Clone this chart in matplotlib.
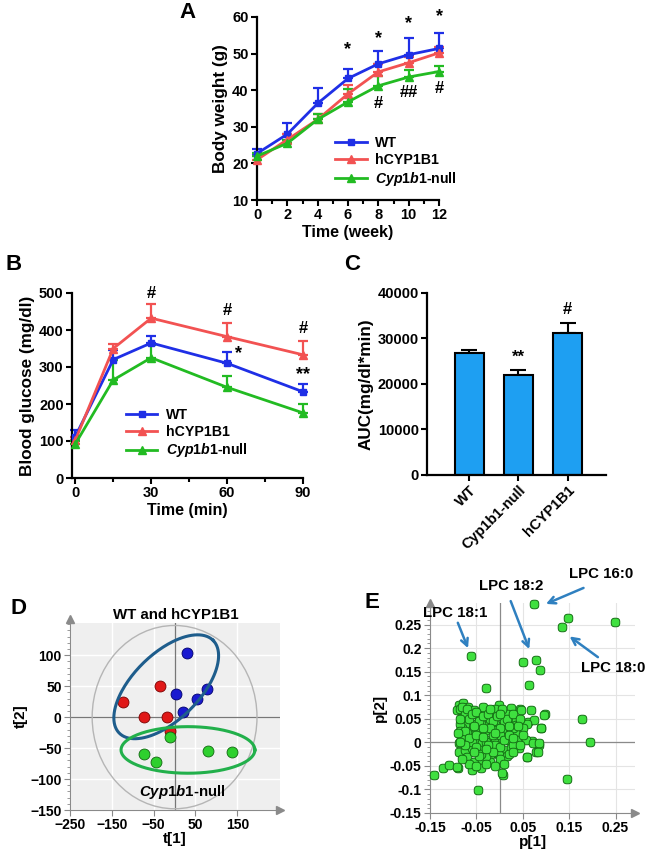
import numpy as np
import matplotlib
matplotlib.use('Agg')
import matplotlib.pyplot as plt
from matplotlib.lines import Line2D
from matplotlib.patches import Ellipse
from matplotlib.path import Path
from matplotlib.ticker import MultipleLocator

plt.rcParams['font.family'] = ['Liberation Sans', 'DejaVu Sans']
plt.rcParams['font.weight'] = 'bold'
plt.rcParams['axes.labelweight'] = 'bold'
plt.rcParams['mathtext.fontset'] = 'custom'
plt.rcParams['mathtext.it'] = 'Liberation Sans:italic:bold'
plt.rcParams['mathtext.rm'] = 'Liberation Sans:bold'

# ---- data ----
# A: body weight
weeks = [0, 2, 4, 6, 8, 10, 12]
bw_wt = [22.7, 28.0, 36.4, 43.2, 47.2, 49.7, 51.4]
bw_wt_err = [1.1, 3.1, 4.3, 2.6, 3.4, 4.5, 4.3]
bw_h = [21.0, 26.5, 32.0, 39.0, 45.0, 47.5, 50.2]
bw_h_err = [1.0, 1.5, 1.5, 2.5, 2.2, 1.7, 1.5]
bw_null = [22.0, 25.5, 32.0, 36.8, 41.2, 43.6, 45.1]
bw_null_err = [0.8, 0.8, 1.5, 3.5, 2.8, 1.8, 1.5]
a_star_x = [6, 8, 10, 12]
a_star_y = [51.0, 54.0, 58.3, 60.2]
a_hash_x = [8, 10, 12]
a_hash_y = [36.5, 39.3, 40.5]
a_hash_txt = ['#', '##', '#']

# B: glucose tolerance
minutes = [0, 15, 30, 60, 90]
gl_wt = [112, 320, 365, 310, 233]
gl_wt_err = [18, 25, 20, 30, 20]
gl_h = [102, 350, 432, 382, 333]
gl_h_err = [8, 12, 38, 38, 37]
gl_null = [92, 265, 325, 245, 176]
gl_null_err = [8, 55, 35, 32, 24]

# C: AUC
groups = ['WT', 'Cyp1b1-null', 'hCYP1B1']
auc = [26800, 22000, 31100]
auc_err = [600, 1000, 2400]
auc_marks = ['', '**', '#']

# D: PCA scores
wt_t1 = [30, 4, 53, 78, 20]
wt_t2 = [104, 38, 30, 45, 8]
h_t1 = [-124, -36, -74, -18, -12]
h_t2 = [25, 50, 0, 0, -22]
null_t1 = [-12, -72, -44, 80, 138]
null_t2 = [-32, -60, -72, -54, -56]

# E: loadings
p1 = [0.075, 0.147, 0.135, 0.248, -0.061, 0.051, 0.078, 0.088, 0.064, -0.030,
      0.177, 0.196, 0.145, -0.047, 0.007, -0.141, -0.123, -0.110, -0.090, 0.060,
      0.078, 0.085, 0.090, 0.098, 0.061, 0.044, 0.070,
      -0.088, -0.078, -0.067, -0.056, -0.081, -0.092, -0.070, -0.038, -0.016, -0.002,
      0.006, 0.024, 0.024, 0.046, 0.067, 0.096, 0.075, 0.060, 0.089, 0.035,
      0.035, 0.009, -0.009, -0.023, -0.041, -0.060, -0.074, -0.056, -0.041, -0.027,
      -0.012, 0.006, 0.024, 0.038, -0.067, -0.052, -0.038, -0.023, -0.009, 0.006,
      0.020, 0.038, 0.057, 0.071, 0.085, 0.082, 0.060, -0.088, -0.088, -0.074,
      -0.060, -0.041, -0.023, -0.005, 0.013, 0.024, 0.042, -0.070, -0.056, -0.038,
      -0.020, -0.002, -0.020, 0.002, -0.092, -0.060, -0.041, 0.006,
      -0.050, -0.030, -0.010, 0.000, -0.045, -0.020, 0.010, -0.060, -0.030, 0.000,
      0.030, -0.050, 0.015, -0.085, -0.075, -0.080, -0.065, -0.035, -0.010, 0.030,
      -0.015, -0.040, -0.070, -0.085, -0.083, -0.086,
      -0.085, -0.080, -0.070, -0.060, -0.050, -0.045, -0.035, -0.025, -0.015, -0.005,
      0.005, 0.015, 0.030, 0.045, 0.050, 0.040, 0.020, 0.000, -0.020, -0.035,
      -0.055, -0.075, -0.065, -0.050, -0.035, -0.025, -0.010, 0.010, 0.020, 0.030,
      0.045, 0.050, 0.015, 0.000, -0.015, -0.030, -0.045, -0.055, -0.065, -0.050,
      -0.030, -0.010, 0.010, 0.020, 0.030, -0.080, -0.075, -0.090, -0.085, -0.020,
      0.000]
p2 = [0.294, 0.264, 0.244, 0.255, 0.183, 0.171, 0.174, 0.153, 0.122, 0.115,
      0.050, 0.000, -0.078, -0.102, -0.070, -0.070, -0.055, -0.048, -0.055, -0.031,
      -0.020, -0.005, 0.031, 0.060, 0.043, 0.070, 0.002,
      0.080, 0.083, 0.076, 0.069, 0.055, 0.069, 0.062, 0.065, 0.058, 0.080,
      0.058, 0.072, 0.051, 0.069, 0.069, 0.058, 0.048, 0.040, 0.030, 0.048,
      0.037, 0.040, 0.040, 0.040, 0.040, 0.040, 0.040, 0.023, 0.019, 0.026,
      0.026, 0.026, 0.023, 0.019, 0.012, 0.005, -0.002, 0.005, 0.009, 0.009,
      0.005, 0.005, 0.005, -0.002, -0.002, -0.020, -0.031, -0.002, -0.020, -0.016,
      -0.013, -0.016, -0.016, -0.016, -0.016, -0.013, -0.013, -0.031, -0.041, -0.038,
      -0.027, -0.027, -0.041, -0.041, -0.052, -0.059, -0.055, -0.066,
      0.030, 0.000, -0.005, 0.015, 0.055, 0.050, 0.045, 0.000, -0.030, -0.010,
      -0.005, -0.010, 0.060, 0.070, 0.060, 0.030, 0.050, 0.075, 0.070, 0.030,
      0.015, -0.025, 0.020, 0.040, 0.010, 0.025,
      0.050, 0.075, 0.070, 0.060, 0.065, 0.045, 0.055, 0.060, 0.045, 0.055,
      0.070, 0.050, 0.060, 0.050, 0.030, 0.035, 0.035, 0.030, 0.030, 0.030,
      0.035, 0.025, 0.010, 0.015, 0.012, -0.005, 0.020, 0.005, 0.015, 0.010,
      -0.005, 0.015, -0.030, -0.035, -0.020, -0.015, -0.030, -0.020, -0.045, -0.050,
      -0.045, -0.050, -0.045, -0.025, -0.020, -0.035, -0.005, 0.020, 0.000, 0.070,
      0.060]
lpc_labels = ['LPC 16:0', 'LPC 18:2', 'LPC 18:1', 'LPC 18:0']
lpc_text = [(0.220, 0.357), (0.024, 0.332), (-0.096, 0.275), (0.245, 0.158)]
lpc_tail = [(0.181, 0.328), (0.024, 0.300), (-0.090, 0.254), (0.212, 0.181)]
lpc_head = [(0.100, 0.294), (0.064, 0.198), (-0.068, 0.200), (0.151, 0.225)]

BLUE = '#1f2fe6'
RED = '#f25252'
GREEN = '#22bb22'
TICK = 10.5

W, H = 651, 858
fig = plt.figure(figsize=(W / 100, H / 100), dpi=100)


def box(x0, y0, x1, y1):
    return [x0 / W, 1 - y1 / H, (x1 - x0) / W, (y1 - y0) / H]


def style_prism(ax):
    for s in ['top', 'right']:
        ax.spines[s].set_visible(False)
    for s in ['left', 'bottom']:
        ax.spines[s].set_linewidth(1.6)
    ax.tick_params(width=1.5, length=4, labelsize=TICK, direction='out', pad=2)
    for lab in ax.get_xticklabels() + ax.get_yticklabels():
        lab.set_fontweight('bold')


def series(ax, x, y, err, color, marker, ms):
    ax.errorbar(x, y, yerr=[np.zeros(len(err)), err], fmt='none', ecolor=color,
                elinewidth=1.6, capsize=3.5, capthick=1.6, clip_on=False, zorder=2)
    ax.plot(x, y, color=color, lw=2, marker=marker, ms=ms, clip_on=False, zorder=3)


def legend3(ax, anchor):
    handles = [Line2D([], [], color=BLUE, lw=2, marker='s', ms=5),
               Line2D([], [], color=RED, lw=2, marker='^', ms=5.5),
               Line2D([], [], color=GREEN, lw=2, marker='^', ms=5.5)]
    labels = ['WT', 'hCYP1B1', r'$\it{Cyp1b1}$-null']
    ax.legend(handles, labels, loc='upper left', bbox_to_anchor=anchor, frameon=False,
              prop={'weight': 'bold', 'size': 10.2}, handlelength=2.2,
              labelspacing=0.2, handletextpad=0.6, borderaxespad=0)


# ---- A ----
axA = fig.add_axes(box(257, 17, 439, 200))
series(axA, weeks, bw_wt, bw_wt_err, BLUE, 's', 5)
series(axA, weeks, bw_h, bw_h_err, RED, '^', 5.5)
series(axA, weeks, bw_null, bw_null_err, GREEN, '^', 5.5)
for x, y in zip(a_star_x, a_star_y):
    axA.text(x, y, '*', ha='center', va='center', fontsize=13, fontweight='bold')
for x, y, t in zip(a_hash_x, a_hash_y, a_hash_txt):
    axA.text(x, y, t, ha='center', va='center', fontsize=12, fontweight='bold')
axA.set_xlim(0, 12)
axA.set_ylim(10, 60)
axA.set_xticks([0, 2, 4, 6, 8, 10, 12])
axA.xaxis.set_minor_locator(MultipleLocator(1))
axA.set_yticks([10, 20, 30, 40, 50, 60])
axA.set_xlabel('Time (week)', fontsize=11.5, labelpad=2)
axA.set_ylabel('Body weight (g)', fontsize=12.3, labelpad=3)
style_prism(axA)
axA.tick_params(which='minor', width=1.5, length=3)
legend3(axA, (0.40, 0.38))

# ---- B ----
axB = fig.add_axes(box(72, 293, 303, 478))
series(axB, minutes, gl_wt, gl_wt_err, BLUE, 's', 5)
series(axB, minutes, gl_h, gl_h_err, RED, '^', 5.5)
series(axB, minutes, gl_null, gl_null_err, GREEN, '^', 5.5)
axB.text(30, 498, '#', ha='center', va='center', fontsize=12, fontweight='bold')
axB.text(60, 453, '#', ha='center', va='center', fontsize=12, fontweight='bold')
axB.text(90, 405, '#', ha='center', va='center', fontsize=12, fontweight='bold')
axB.text(64.5, 335, '*', ha='center', va='center', fontsize=13, fontweight='bold')
axB.text(90, 280, '**', ha='center', va='center', fontsize=13, fontweight='bold')
axB.set_xlim(-1.3, 90)
axB.set_ylim(0, 500)
axB.set_xticks([0, 30, 60, 90])
axB.xaxis.set_minor_locator(MultipleLocator(15))
axB.set_yticks([0, 100, 200, 300, 400, 500])
axB.set_xlabel('Time (min)', fontsize=11.5, labelpad=2)
axB.set_ylabel('Blood glucose (mg/dl)', fontsize=12.3, labelpad=3)
style_prism(axB)
axB.tick_params(which='minor', width=1.5, length=3)
legend3(axB, (0.21, 0.41))

# ---- C ----
axC = fig.add_axes(box(427, 293, 606, 475))
xc = np.arange(len(groups))
axC.bar(xc, auc, width=0.6, color='#1e9ff2', edgecolor='black', linewidth=1.5, zorder=2)
axC.errorbar(xc, auc, yerr=[np.zeros(len(auc_err)), auc_err], fmt='none', ecolor='black',
             elinewidth=1.5, capsize=6, capthick=1.5, zorder=1)
for x, v, e, m in zip(xc, auc, auc_err, auc_marks):
    if m:
        axC.text(x, v + e + 1200, m, ha='center', va='bottom', fontsize=12, fontweight='bold')
axC.set_xlim(-0.86, 2.78)
axC.set_ylim(0, 40000)
axC.set_yticks([0, 10000, 20000, 30000, 40000])
axC.set_xticks(xc)
axC.set_xticklabels(groups, rotation=45, ha='right', rotation_mode='anchor')
axC.set_ylabel('AUC(mg/dl*min)', fontsize=12.3, labelpad=3)
style_prism(axC)

# softly rounded square marker for the loadings
tt = np.linspace(0, 2 * np.pi, 61)
rsq = Path(np.column_stack([np.sign(np.cos(tt)) * np.abs(np.cos(tt)) ** 0.7,
                            np.sign(np.sin(tt)) * np.abs(np.sin(tt)) ** 0.7]))


def pca_frame(ax):
    for s in ['top', 'right']:
        ax.spines[s].set_visible(False)
    for s in ['left', 'bottom']:
        ax.spines[s].set_color('#8a8a8a')
    ax.tick_params(colors='#8a8a8a', labelcolor='black', labelsize=10, length=4, pad=2)
    ax.tick_params(which='minor', colors='#8a8a8a', length=2)
    for lab in ax.get_xticklabels() + ax.get_yticklabels():
        lab.set_fontweight('bold')


# ---- D ----
axD = fig.add_axes(box(70, 623, 280, 810))
axD.set_facecolor('#efefef')
axD.set_xlim(-250, 252)
axD.set_ylim(-150, 152)
axD.set_xticks([-250, -150, -50, 50, 150])
axD.set_yticks([-150, -100, -50, 0, 50, 100])
axD.yaxis.set_minor_locator(MultipleLocator(10))
axD.grid(True, color='white', lw=1)
axD.set_axisbelow(True)
axD.axhline(0, color='#777777', lw=0.9, zorder=1)
axD.axvline(0, color='#777777', lw=0.9, zorder=1)
axD.add_patch(Ellipse((0, 0), 394, 296, fill=False, edgecolor='#b5b5b5', lw=1, zorder=1))
t = np.linspace(0, 2 * np.pi, 200)
axD.plot(-20 + 112 * np.cos(t) + 56 * np.sin(t), 49 + 75 * np.cos(t) - 37.6 * np.sin(t),
         color='#1e5d8c', lw=2.2, zorder=4)
axD.plot(32 + 160 * np.cos(t), -53 + 37.6 * np.sin(t), color='#22b04b', lw=2.2, zorder=4)
axD.scatter(h_t1, h_t2, s=62, color='#e01818', edgecolor='#7a0000', lw=0.6, zorder=3)
axD.scatter(wt_t1, wt_t2, s=62, color='#1a1ad0', edgecolor='#00006a', lw=0.6, zorder=3)
axD.scatter(null_t1, null_t2, s=62, color='#2ed02e', edgecolor='#116611', lw=0.6, zorder=3)
axD.text(19, -121, r'$\it{Cyp1b1}$-null', ha='center', va='center', fontsize=10.8)
pca_frame(axD)
axD.plot([0], [1.02], marker='^', color='#8a8a8a', ms=6, transform=axD.transAxes, clip_on=False)
axD.plot([1.0], [0], marker='>', color='#8a8a8a', ms=6, transform=axD.transAxes, clip_on=False)
axD.set_xlabel('t[1]', fontsize=11, labelpad=0)
axD.set_ylabel('t[2]', fontsize=11, labelpad=2)
fig.text(176 / W, 1 - 615 / H, 'WT and hCYP1B1', ha='center', va='center', fontsize=10.8,
         fontweight='bold')

# ---- E ----
axE = fig.add_axes(box(430, 603, 635, 813))
axE.set_xlim(-0.15, 0.292)
axE.set_ylim(-0.15, 0.296)
axE.set_xticks([-0.15, -0.05, 0.05, 0.15, 0.25])
axE.set_xticklabels(['-0.15', '-0.05', '0.05', '0.15', '0.25'])
axE.set_yticks([-0.15, -0.1, -0.05, 0, 0.05, 0.1, 0.15, 0.2, 0.25])
axE.set_yticklabels(['-0.15', '-0.1', '-0.05', '0', '0.05', '0.1', '0.15', '0.2', '0.25'])
axE.yaxis.set_minor_locator(MultipleLocator(0.01))
axE.grid(True, color='#e4e4e4', lw=0.8)
axE.set_axisbelow(True)
axE.axhline(0, color='#8a8a8a', lw=0.9, zorder=1)
axE.axvline(0, color='#8a8a8a', lw=0.9, zorder=1)
axE.scatter(p1, p2, s=38, marker=rsq, color='#3fe03f', edgecolor='#167016', lw=0.7,
            zorder=3, clip_on=False)
pca_frame(axE)
axE.plot([0], [1.0], marker='^', color='#8a8a8a', ms=6, transform=axE.transAxes, clip_on=False)
axE.plot([1.0], [0], marker='>', color='#8a8a8a', ms=6, transform=axE.transAxes, clip_on=False)
axE.set_xlabel('p[1]', fontsize=11, labelpad=0)
axE.set_ylabel('p[2]', fontsize=11, labelpad=2)
for lab, tp, tl, hd in zip(lpc_labels, lpc_text, lpc_tail, lpc_head):
    axE.text(tp[0], tp[1], lab, ha='center', va='center', fontsize=10.8, fontweight='bold',
             clip_on=False)
    axE.annotate('', xy=hd, xytext=tl, annotation_clip=False,
                 arrowprops=dict(arrowstyle='->,head_length=0.5,head_width=0.25',
                                 color='#2f80c0', lw=1.8, shrinkA=0, shrinkB=0))

# panel letters
for let, x, y in [('A', 187, 12), ('B', 14, 264), ('C', 352, 264), ('D', 18, 609), ('E', 372, 603)]:
    fig.text(x / W, 1 - y / H, let, ha='center', va='center', fontsize=16, fontweight='bold')

fig.savefig('out.png', dpi=100)
